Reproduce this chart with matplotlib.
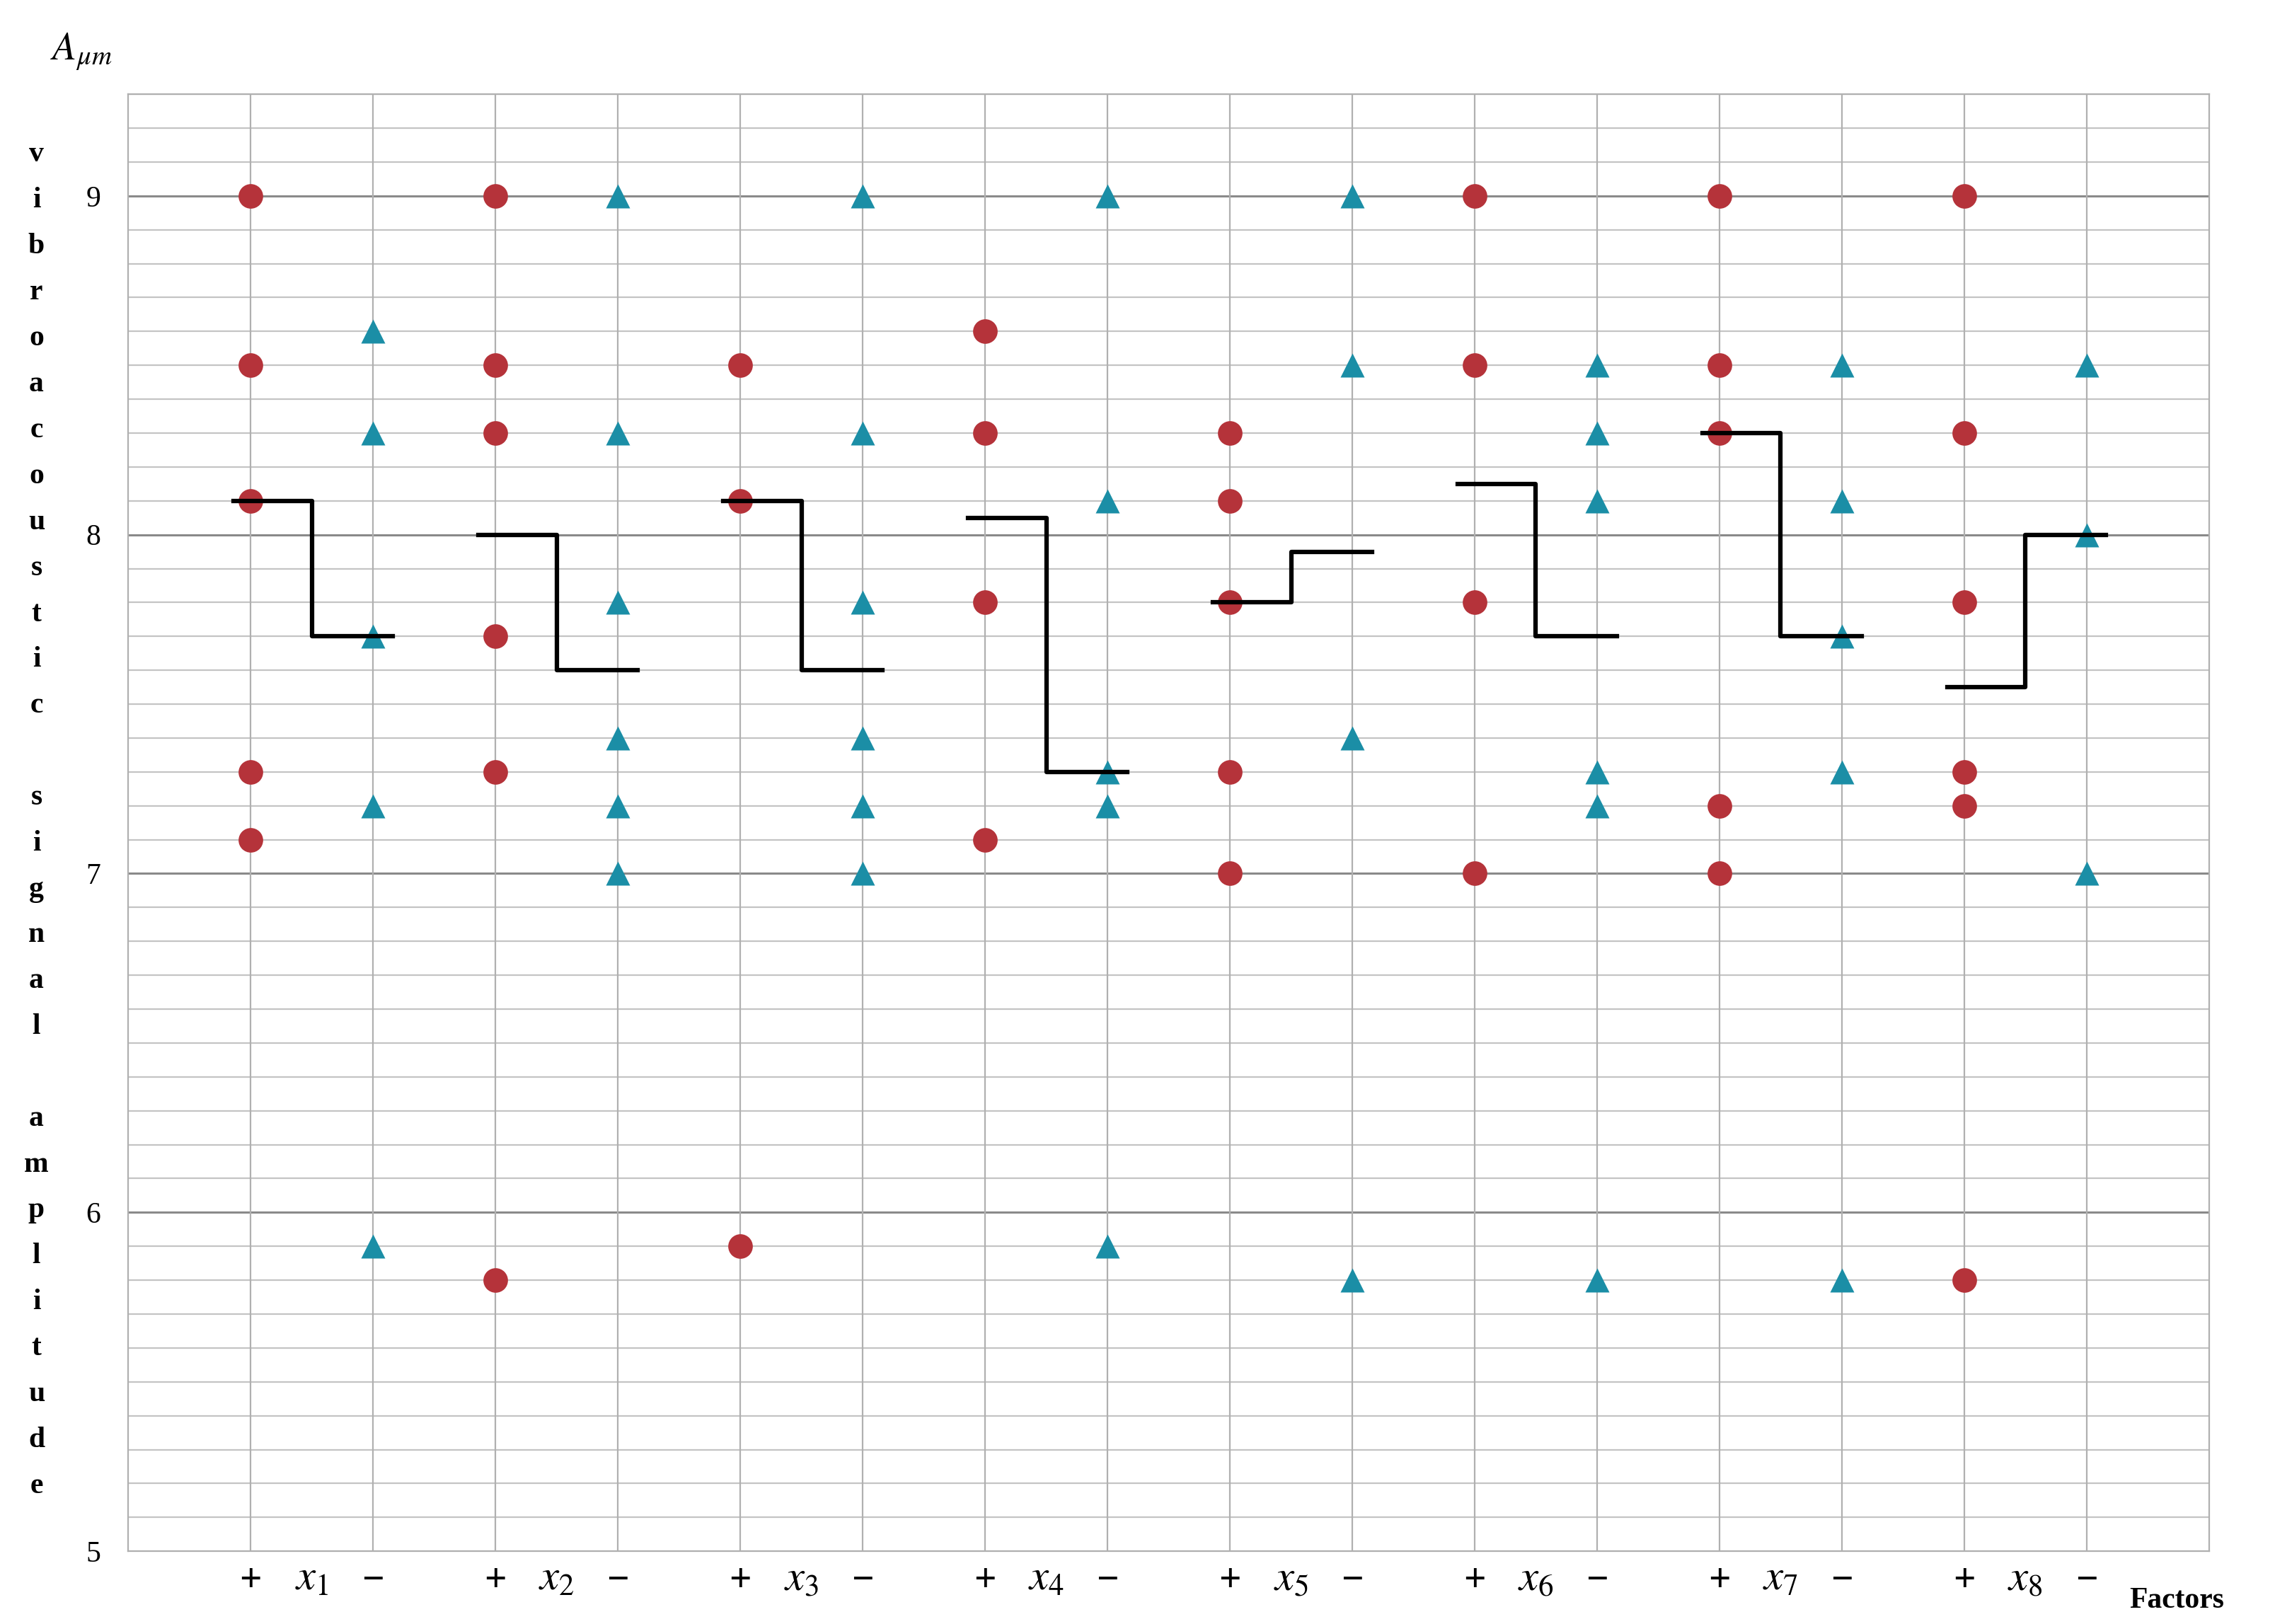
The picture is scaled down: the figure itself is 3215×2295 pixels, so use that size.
"""Vibroacoustic signal amplitude by factor level (+ / -) with mean step lines."""
import matplotlib

matplotlib.use("Agg")
import matplotlib.pyplot as plt
from matplotlib.transforms import blended_transform_factory

plt.rcParams["font.family"] = ["Liberation Serif", "DejaVu Serif"]

factors = ["1", "2", "3", "4", "5", "6", "7", "8"]

plus_vals = [
    [9.0, 8.5, 8.1, 7.3, 7.1],
    [9.0, 8.5, 8.3, 7.7, 7.3, 5.8],
    [8.5, 8.1, 5.9],
    [8.6, 8.3, 7.8, 7.1],
    [8.3, 8.1, 7.8, 7.3, 7.0],
    [9.0, 8.5, 7.8, 7.0],
    [9.0, 8.5, 8.3, 7.2, 7.0],
    [9.0, 8.3, 7.8, 7.3, 7.2, 5.8],
]
minus_vals = [
    [8.6, 8.3, 7.7, 7.2, 5.9],
    [9.0, 8.3, 7.8, 7.4, 7.2, 7.0],
    [9.0, 8.3, 7.8, 7.4, 7.2, 7.0],
    [9.0, 8.1, 7.3, 7.2, 5.9],
    [9.0, 8.5, 7.4, 5.8],
    [8.5, 8.3, 8.1, 7.3, 7.2, 5.8],
    [8.5, 8.1, 7.7, 7.3, 5.8],
    [8.5, 8.0, 7.0],
]
plus_mean = [8.1, 8.0, 8.1, 8.05, 7.8, 8.15, 8.3, 7.55]
minus_mean = [7.7, 7.6, 7.6, 7.3, 7.95, 7.7, 7.7, 8.0]

y_ticks = [5, 6, 7, 8, 9]
y_label = "vibroacoustic signal amplitude"

fig = plt.figure(figsize=(32.15, 22.95), dpi=100)
ax = fig.add_axes([0.0564, 0.0448, 0.9146, 0.8972])

red = "#b5333a"
teal = "#1b8ea6"
step = 1.0  # distance between factors, +/- half a step apart

ax.set_xlim(-0.5, len(factors))
ax.set_ylim(5, 9.3)

# grid
for k in range(0, 44):
    y = 5 + k * 0.1
    major = abs(y - round(y)) < 1e-6
    ax.axhline(y, color="#8a8a8a" if major else "#c4c4c4",
               lw=2.2 if major else 1.6, zorder=0)
for i in range(len(factors)):
    ax.axvline(i * step, color="#b0b0b0", lw=1.6, zorder=0)
    ax.axvline(i * step + 0.5, color="#b0b0b0", lw=1.6, zorder=0)

for i in range(len(factors)):
    xp, xm = i * step, i * step + 0.5
    ax.plot([xp] * len(plus_vals[i]), plus_vals[i], "o", color=red,
            ms=25, mec="none", zorder=3)
    ax.plot([xm] * len(minus_vals[i]), minus_vals[i], "^", color=teal,
            ms=25, mec="none", zorder=3)
    mid = (xp + xm) / 2
    ax.plot([xp - 0.07, mid, mid, xm + 0.08],
            [plus_mean[i], plus_mean[i], minus_mean[i], minus_mean[i]],
            color="black", lw=4.5, zorder=4)

ax.set_yticks(y_ticks)
ax.set_yticklabels([str(v) for v in y_ticks], fontsize=30)
ax.tick_params(axis="y", length=0, pad=28)
ax.set_xticks([])
for s in ax.spines.values():
    s.set_color("#b0b0b0")
    s.set_linewidth(1.6)

trans = blended_transform_factory(ax.transData, ax.transAxes)
for i, f in enumerate(factors):
    xp, xm = i * step, i * step + 0.5
    ax.text(xp, -0.008, "+", transform=trans, ha="center", va="top",
            fontsize=40, fontweight="bold")
    ax.text(xm, -0.008, "\u2212", transform=trans, ha="center", va="top",
            fontsize=40, fontweight="bold")
    ax.text((xp + xm) / 2, -0.006, rf"$\mathit{{x}}_{{{f}}}$",
            transform=trans, ha="center", va="top", fontsize=44,
            math_fontfamily="stix")

fig.text(0.936, 0.006, "Factors", ha="left", va="bottom", fontsize=30,
         fontweight="bold")
fig.text(0.022, 0.968, r"$\mathbf{\mathit{A}}_{\mathit{\mu m}}$",
         fontsize=40, math_fontfamily="stix", ha="left", va="center")

# stacked vertical label
ypos = 0.905
for ch in y_label:
    if ch == " ":
        ypos -= 0.028
        continue
    fig.text(0.016, ypos, ch, fontsize=30, fontweight="bold",
             ha="center", va="center")
    ypos -= 0.0283

fig.savefig("out.png", dpi=100)
